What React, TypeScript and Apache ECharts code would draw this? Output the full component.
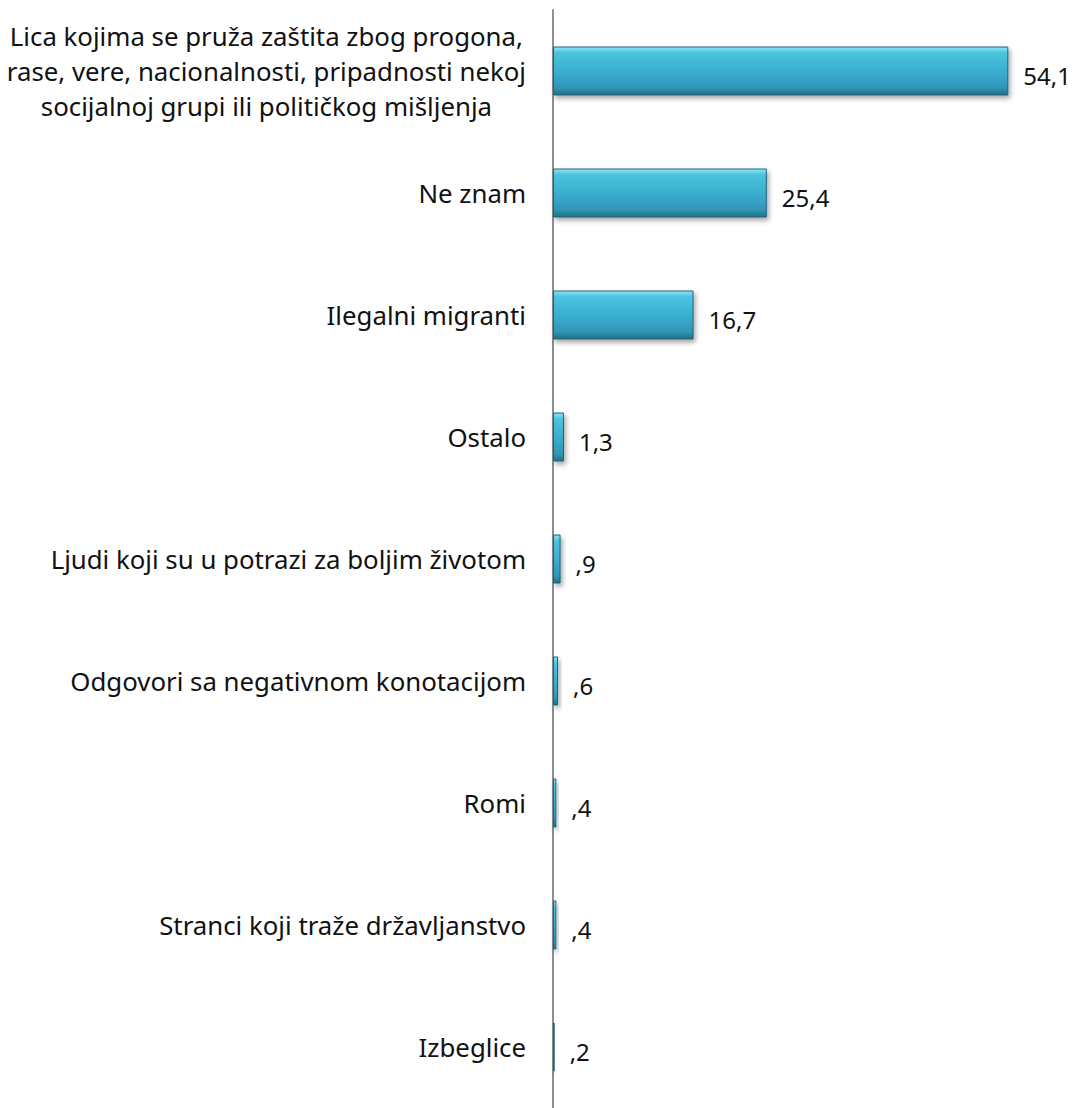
import React, { useEffect, useRef } from "react";
import * as echarts from "echarts";

const categories = [
  "Lica kojima se pruža zaštita zbog progona,\nrase, vere, nacionalnosti, pripadnosti nekoj\nsocijalnoj grupi ili političkog mišljenja",
  "Ne znam",
  "Ilegalni migranti",
  "Ostalo",
  "Ljudi koji su u potrazi za boljim životom",
  "Odgovori sa negativnom konotacijom",
  "Romi",
  "Stranci koji traže državljanstvo",
  "Izbeglice",
];
const values = [54.1, 25.4, 16.7, 1.3, 0.9, 0.6, 0.4, 0.4, 0.2];

const fmt = (v: number) => {
  const s = v.toFixed(1).replace(".", ",");
  return s.startsWith("0") ? s.slice(1) : s;
};

export default function App() {
  const ref = useRef<HTMLDivElement>(null);
  useEffect(() => {
    const chart = echarts.init(ref.current!, undefined, { renderer: "svg" });
    chart.setOption({
      animation: false,
      grid: { left: 553, right: 23, top: 10, bottom: -9, containLabel: false },
      xAxis: {
        type: "value",
        min: 0,
        max: 60,
        show: false,
      },
      yAxis: {
        type: "category",
        inverse: true,
        data: categories,
        axisLine: { show: true, lineStyle: { color: "#8f8f8f", width: 2 } },
        axisTick: { show: false },
        axisLabel: {
          margin: 27,
          color: "#111",
          fontFamily: "Noto Sans",
          fontSize: 25.8,
          formatter: (v: string) =>
            v
              .split("\n")
              .map((l) => `{c|${l}}`)
              .join("\n"),
          rich: {
            c: { align: "center", fontFamily: "Noto Sans", fontSize: 25.8, lineHeight: 35, color: "#111" },
          },
        },
      },
      series: [
        {
          type: "bar",
          data: values,
          barWidth: 49,
          itemStyle: {
            color: new echarts.graphic.LinearGradient(0, 0, 0, 1, [
              { offset: 0, color: "#8fe6f7" },
              { offset: 0.12, color: "#4cc3de" },
              { offset: 0.55, color: "#38acce" },
              { offset: 0.85, color: "#3196b5" },
              { offset: 1, color: "#226f86" },
            ]),
            borderColor: "#1f6478",
            borderWidth: 1,
            shadowColor: "rgba(0,0,0,0.35)",
            shadowBlur: 5,
            shadowOffsetX: 2,
            shadowOffsetY: 3,
          },
          label: {
            show: true,
            position: "right",
            distance: 15,
            fontFamily: "Noto Sans",
            fontSize: 24,
            color: "#111",
            offset: [0, 4],
            formatter: (p: any) => fmt(p.value),
          },
        },
      ],
    });
    return () => chart.dispose();
  }, []);
  return (
    <div
      ref={ref}
      style={{ position: "absolute", left: 0, top: 0, width: 1081, height: 1108, background: "#fff" }}
    />
  );
}
